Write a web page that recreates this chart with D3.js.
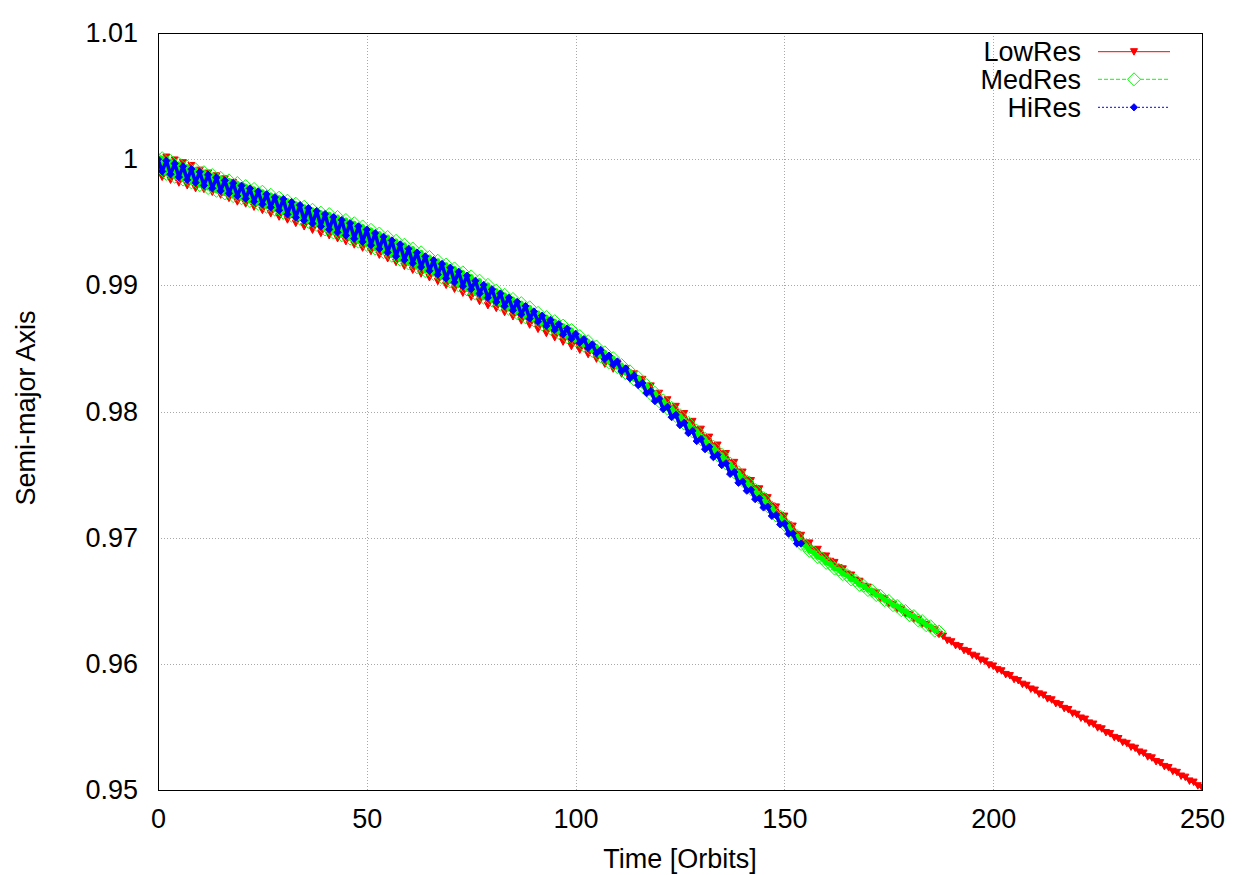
<!DOCTYPE html>
<html><head><meta charset="utf-8">
<script src="https://cdn.jsdelivr.net/npm/d3@7"></script>
<style>
body{margin:0;background:#fff}
text{font-family:"Liberation Sans",Arial,Helvetica,sans-serif}
</style>
</head><body>
<svg id="chart" width="1250" height="875"></svg>
<script>
// ---------- data ----------
const xTicks = [0, 50, 100, 150, 200, 250];
const yTicks = [0.95, 0.96, 0.97, 0.98, 0.99, 1.0, 1.01];
const yTickLabels = ["0.95", "0.96", "0.97", "0.98", "0.99", "1", "1.01"];
const seriesNames = ["LowRes", "MedRes", "HiRes"];
const xLabel = "Time [Orbits]";
const yLabel = "Semi-major Axis";

// semi-major axis sampled once per orbit (t = 0,1,2,...)
const lowRes = [
1.00000,0.99858,1.00017,0.99835,0.99994,0.99813,0.99972,0.99791,0.99950,0.99769,
0.99913,0.99762,0.99890,0.99739,0.99868,0.99717,0.99844,0.99691,0.99816,0.99663,
0.99780,0.99647,0.99755,0.99621,0.99729,0.99596,0.99702,0.99569,0.99676,0.99543,
0.99644,0.99520,0.99617,0.99493,0.99590,0.99466,0.99563,0.99439,0.99537,0.99413,
0.99503,0.99395,0.99479,0.99372,0.99456,0.99348,0.99431,0.99322,0.99406,0.99297,
0.99380,0.99270,0.99352,0.99241,0.99323,0.99213,0.99294,0.99183,0.99263,0.99152,
0.99233,0.99122,0.99203,0.99092,0.99173,0.99062,0.99143,0.99032,0.99113,0.99002,
0.99083,0.98971,0.99051,0.98940,0.99020,0.98908,0.98987,0.98874,0.98954,0.98841,
0.98908,0.98819,0.98875,0.98786,0.98842,0.98753,0.98808,0.98720,0.98775,0.98687,
0.98742,0.98653,0.98709,0.98620,0.98676,0.98587,0.98642,0.98552,0.98607,0.98517,
0.98566,0.98488,0.98530,0.98453,0.98495,0.98417,0.98457,0.98377,0.98418,0.98338,
0.98378,0.98299,0.98339,0.98259,0.98299,0.98220,0.98255,0.98169,0.98203,0.98118,
0.98145,0.98075,0.98093,0.98023,0.98041,0.97971,0.97984,0.97909,0.97922,0.97847,
0.97860,0.97784,0.97797,0.97721,0.97734,0.97658,0.97667,0.97588,0.97597,0.97518,
0.97520,0.97457,0.97453,0.97390,0.97387,0.97324,0.97317,0.97251,0.97244,0.97178,
0.97171,0.97101,0.97092,0.97024,0.97019,0.96957,0.96958,0.96902,0.96908,0.96855,
0.96855,0.96813,0.96804,0.96762,0.96753,0.96712,0.96704,0.96664,0.96655,0.96615,
0.96608,0.96569,0.96562,0.96522,0.96515,0.96476,0.96472,0.96436,0.96432,0.96396,
0.96392,0.96356,0.96352,0.96316,0.96312,0.96275,0.96270,0.96234,0.96220,0.96187,
0.96175,0.96146,0.96137,0.96107,0.96098,0.96069,0.96060,0.96031,0.96022,0.95992,
0.95983,0.95954,0.95945,0.95916,0.95907,0.95877,0.95868,0.95839,0.95830,0.95801,
0.95792,0.95762,0.95753,0.95724,0.95715,0.95686,0.95677,0.95647,0.95638,0.95609,
0.95600,0.95571,0.95562,0.95532,0.95523,0.95494,0.95485,0.95456,0.95447,0.95417,
0.95408,0.95379,0.95370,0.95341,0.95332,0.95302,0.95293,0.95264,0.95255,0.95226,
0.95217,0.95187,0.95178,0.95149,0.95140,0.95111,0.95102,0.95072,0.95063,0.95034,
0.95020];

const medRes = [
1.00000,1.00008,0.99883,0.99985,0.99860,0.99963,0.99838,0.99941,0.99816,0.99919,
0.99794,0.99897,0.99771,0.99874,0.99749,0.99852,0.99728,0.99832,0.99707,0.99811,
0.99690,0.99787,0.99668,0.99764,0.99645,0.99742,0.99622,0.99718,0.99599,0.99695,
0.99575,0.99671,0.99551,0.99647,0.99527,0.99623,0.99503,0.99599,0.99480,0.99576,
0.99443,0.99565,0.99419,0.99542,0.99396,0.99518,0.99371,0.99492,0.99346,0.99467,
0.99320,0.99440,0.99292,0.99411,0.99263,0.99383,0.99234,0.99353,0.99203,0.99322,
0.99173,0.99292,0.99143,0.99262,0.99113,0.99225,0.99090,0.99195,0.99060,0.99165,
0.99030,0.99134,0.98998,0.99103,0.98967,0.99071,0.98934,0.99037,0.98901,0.99004,
0.98879,0.98958,0.98846,0.98925,0.98813,0.98892,0.98779,0.98859,0.98746,0.98826,
0.98723,0.98782,0.98690,0.98749,0.98657,0.98716,0.98623,0.98681,0.98588,0.98646,
0.98563,0.98598,0.98521,0.98557,0.98480,0.98515,0.98436,0.98469,0.98390,0.98423,
0.98352,0.98368,0.98303,0.98319,0.98254,0.98270,0.98200,0.98209,0.98139,0.98149,
0.98081,0.98088,0.98023,0.98029,0.97964,0.97971,0.97904,0.97909,0.97842,0.97847,
0.97780,0.97784,0.97717,0.97721,0.97654,0.97658,0.97587,0.97588,0.97517,0.97518,
0.97451,0.97446,0.97384,0.97379,0.97318,0.97313,0.97248,0.97240,0.97175,0.97167,
0.97102,0.97090,0.97023,0.97013,0.96950,0.96939,0.96896,0.96884,0.96846,0.96837,
0.96800,0.96791,0.96755,0.96747,0.96711,0.96703,0.96668,0.96661,0.96626,0.96619,
0.96585,0.96579,0.96545,0.96539,0.96505,0.96499,0.96465,0.96459,0.96425,0.96419,
0.96385,0.96379,0.96345,0.96339,0.96305,0.96298,0.96263,0.96257];

const hiRes = [
1.00000,0.99903,0.99988,0.99880,0.99965,0.99858,0.99943,0.99836,0.99921,0.99814,
0.99899,0.99792,0.99876,0.99769,0.99854,0.99749,0.99831,0.99729,0.99810,0.99708,
0.99790,0.99687,0.99768,0.99664,0.99745,0.99642,0.99722,0.99618,0.99699,0.99595,
0.99684,0.99562,0.99660,0.99538,0.99636,0.99514,0.99612,0.99490,0.99589,0.99467,
0.99565,0.99443,0.99541,0.99420,0.99518,0.99396,0.99493,0.99370,0.99468,0.99345,
0.99442,0.99318,0.99414,0.99289,0.99385,0.99261,0.99356,0.99231,0.99325,0.99200,
0.99290,0.99175,0.99260,0.99145,0.99230,0.99115,0.99200,0.99085,0.99170,0.99055,
0.99140,0.99024,0.99108,0.98993,0.99077,0.98969,0.99036,0.98935,0.99003,0.98902,
0.98969,0.98868,0.98936,0.98835,0.98903,0.98802,0.98869,0.98769,0.98836,0.98736,
0.98793,0.98712,0.98760,0.98679,0.98727,0.98646,0.98693,0.98611,0.98658,0.98576,
0.98616,0.98545,0.98574,0.98504,0.98533,0.98462,0.98489,0.98416,0.98443,0.98370,
0.98397,0.98319,0.98342,0.98264,0.98286,0.98209,0.98227,0.98145,0.98163,0.98082,
0.98100,0.98018,0.98037,0.97955,0.97974,0.97892,0.97910,0.97829,0.97847,0.97765,
0.97783,0.97701,0.97720,0.97638,0.97657,0.97575,0.97590,0.97505,0.97520,0.97435,
0.97445,0.97372,0.97379,0.97305,0.97312,0.97239,0.97246,0.97172,0.97179,0.97105,
0.97112,0.97032,0.97033,0.96953,0.96954];

// ---------- layout ----------
const W = 1250, H = 875;
const M = {left: 158, right: 1202, top: 33, bottom: 790};
const FONT = 27;

const svg = d3.select("#chart");
svg.append("rect").attr("width", W).attr("height", H).attr("fill", "#fff");

const x = d3.scaleLinear().domain([0, 250]).range([M.left, M.right]);
const y = d3.scaleLinear().domain([0.95, 1.01]).range([M.bottom, M.top]);

// grid
const grid = svg.append("g").attr("class", "grid");
grid.append("g")
  .attr("transform", `translate(0,${M.bottom})`)
  .call(d3.axisBottom(x).tickValues(xTicks.slice(1, -1)).tickSize(-(M.bottom - M.top)).tickFormat(""))
  .call(g => g.select(".domain").remove());
grid.append("g")
  .attr("transform", `translate(${M.left},0)`)
  .call(d3.axisLeft(y).tickValues(yTicks.slice(1, -1)).tickSize(-(M.right - M.left)).tickFormat(""))
  .call(g => g.select(".domain").remove());
grid.selectAll("line").attr("stroke", "#a8a8a8").attr("stroke-width", 1)
  .attr("stroke-dasharray", "1,2").attr("shape-rendering", "crispEdges");

// tick labels via axes
const ax = svg.append("g")
  .attr("transform", `translate(0,${M.bottom})`)
  .call(d3.axisBottom(x).tickValues(xTicks).tickSize(0).tickPadding(19).tickFormat(d3.format("d")));
ax.select(".domain").remove();
ax.selectAll("text").attr("font-size", FONT).attr("fill", "#000")
  .style("font-family", '"Liberation Sans", Arial, sans-serif');

const ay = svg.append("g")
  .attr("transform", `translate(${M.left},0)`)
  .call(d3.axisLeft(y).tickValues(yTicks).tickSize(0).tickPadding(20)
    .tickFormat((d, i) => yTickLabels[i]));
ay.select(".domain").remove();
ay.selectAll("text").attr("font-size", FONT).attr("fill", "#000")
  .style("font-family", '"Liberation Sans", Arial, sans-serif');

svg.append("text").attr("x", (M.left + M.right) / 2).attr("y", 868)
  .attr("text-anchor", "middle").attr("font-size", FONT).text(xLabel);
svg.append("text")
  .attr("transform", `translate(35,408) rotate(-90)`)
  .attr("text-anchor", "middle").attr("font-size", FONT).text(yLabel);

// clip
svg.append("clipPath").attr("id", "plotclip").append("rect")
  .attr("x", M.left).attr("y", M.top).attr("width", M.right - M.left).attr("height", M.bottom - M.top);

// markers
const triDown = "M-3.5,-3L3.5,-3L0,3.5Z";
const diamondBig = "M0,-6.5L6.5,0L0,6.5L-6.5,0Z";
const diamondSmall = "M0,-3.6L3.6,0L0,3.6L-3.6,0Z";

const series = [
  {name: seriesNames[0], values: lowRes, color: "#ff0000", dash: null, marker: triDown, fill: true, lw: 3},
  {name: seriesNames[1], values: medRes, color: "#00ff00", dash: "4,2", marker: diamondBig, fill: false, lw: 5},
  {name: seriesNames[2], values: hiRes, color: "#0000ff", dash: "2,2", marker: diamondSmall, fill: true, lw: 3.5}
];

const line = d3.line().x((d, i) => x(i)).y(d => y(d));
const plot = svg.append("g").attr("clip-path", "url(#plotclip)");

series.forEach(s => {
  const g = plot.append("g");
  g.append("path").attr("d", line(s.values)).attr("fill", "none")
    .attr("stroke", s.color).attr("stroke-width", s.lw).attr("stroke-linejoin", "round");
  g.selectAll("path.pt").data(s.values).join("path").attr("class", "pt")
    .attr("transform", (d, i) => `translate(${x(i)},${y(d)})`)
    .attr("d", s.marker)
    .attr("fill", s.fill ? s.color : "none")
    .attr("stroke", s.color).attr("stroke-width", 1);
});

// border
svg.append("rect").attr("x", M.left + 0.5).attr("y", M.top + 0.5)
  .attr("width", M.right - M.left).attr("height", M.bottom - M.top)
  .attr("fill", "none").attr("stroke", "#000").attr("stroke-width", 1);

// legend
const legY = [51.7, 79.3, 107.3];
series.forEach((s, i) => {
  const g = svg.append("g");
  g.append("text").attr("x", 1081).attr("y", legY[i]).attr("dy", "0.35em")
    .attr("text-anchor", "end").attr("font-size", FONT).text(s.name);
  g.append("line").attr("x1", 1098).attr("x2", 1170).attr("y1", legY[i]).attr("y2", legY[i])
    .attr("stroke", s.color).attr("stroke-width", 1).attr("stroke-dasharray", s.dash);
  g.append("path").attr("transform", `translate(1134,${legY[i]})`).attr("d", s.marker)
    .attr("fill", s.fill ? s.color : "#fff").attr("stroke", s.color).attr("stroke-width", 1);
});
</script>
</body></html>
